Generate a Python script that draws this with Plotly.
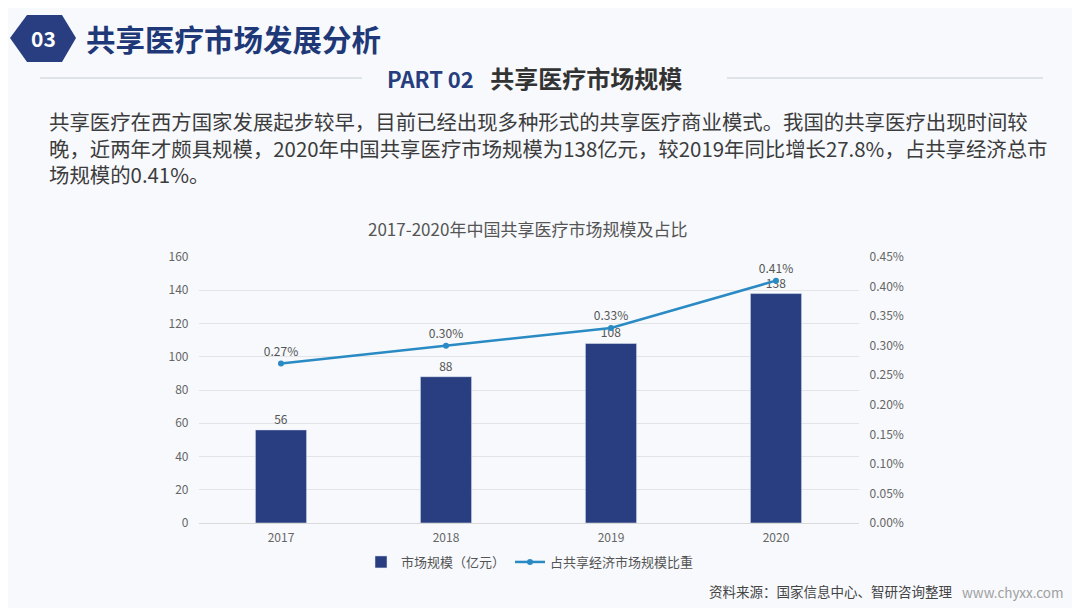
import plotly.graph_objects as go

years = ["2017", "2018", "2019", "2020"]
market_size = [56, 88, 108, 138]          # 亿元
share_pct = [0.27, 0.30, 0.33, 0.41]      # %
left_ticks = [0, 20, 40, 60, 80, 100, 120, 140, 160]
right_ticks = [0, 0.05, 0.10, 0.15, 0.20, 0.25, 0.30, 0.35, 0.40, 0.45]

FONT = "Noto Sans CJK SC"
W, H = 1080, 608
OFF = 8  # page body margin offset
BAR_C = "#283e80"
LINE_C = "#2a8ac4"

def px(x):
    return (x - OFF) / W

def py(y):
    return 1 - (y - OFF) / H

fig = go.Figure()
fig.add_trace(go.Bar(
    x=years, y=market_size, name="市场规模（亿元）",
    marker=dict(color=BAR_C), width=0.31,
    text=[str(v) for v in market_size], textposition="outside",
    textfont=dict(family=FONT, size=12, color="#555555"),
    cliponaxis=False,
))
fig.add_trace(go.Scatter(
    x=years, y=share_pct, name="占共享经济市场规模比重", yaxis="y2",
    mode="lines+markers+text",
    line=dict(color=LINE_C, width=2.5),
    marker=dict(color=LINE_C, size=6),
    text=[f"{v:.2f}%" for v in share_pct], textposition="top center",
    textfont=dict(family=FONT, size=12, color="#555555"),
    cliponaxis=False,
))

shapes = [
    # hexagon badge
    dict(type="path", xref="paper", yref="paper",
         path=f"M {px(10)} {py(38)} L {px(27)} {py(15)} L {px(62)} {py(15)} L {px(76)} {py(38)} L {px(62)} {py(62)} L {px(27)} {py(62)} Z",
         fillcolor="#283e80", line=dict(width=0)),
    # lines around PART 02
    dict(type="line", xref="paper", yref="paper", x0=px(40), x1=px(362), y0=py(78), y1=py(78),
         line=dict(color="#d6dbe2", width=1.5)),
    dict(type="line", xref="paper", yref="paper", x0=px(727), x1=px(1043), y0=py(78), y1=py(78),
         line=dict(color="#d6dbe2", width=1.5)),
]

def ann(text, x, y, size, color, xanchor="left"):
    return dict(text=text, x=px(x), y=py(y), xref="paper", yref="paper",
                xanchor=xanchor, yanchor="middle", showarrow=False, align="left",
                font=dict(family=FONT, size=size, color=color))

paragraph_lines = [
    "共享医疗在西方国家发展起步较早，目前已经出现多种形式的共享医疗商业模式。我国的共享医疗出现时间较",
    "晚，近两年才颇具规模，2020年中国共享医疗市场规模为138亿元，较2019年同比增长27.8%，占共享经济总市",
    "场规模的0.41%。",
]

annotations = [
    ann("<b>03</b>", 43, 38, 21, "white", xanchor="center"),
    ann("<b>共享医疗市场发展分析</b>", 84, 38, 29.5, "#1f3877"),
    ann("<b><span style='color:#263d7e;font-size:22px'>PART 02</span>&nbsp;&nbsp;&nbsp;共享医疗市场规模</b>",
        385, 78, 24, "#333333"),
    ann("<br>".join(paragraph_lines), 47, 147, 20.4, "#3c3c3c"),
    ann("2017-2020年中国共享医疗市场规模及占比", 527, 228, 17, "#555555", xanchor="center"),
    ann("资料来源：国家信息中心、智研咨询整理", 707, 591, 13.5, "#444444"),
    ann("www.chyxx.com", 960, 592, 13.5, "#a0a0a0"),
]

fig.update_layout(
    width=W, height=H,
    margin=dict(l=0, r=0, t=0, b=0, autoexpand=False),
    paper_bgcolor="#f7f9fc", plot_bgcolor="rgba(0,0,0,0)",
    font=dict(family=FONT, size=12, color="#666666"),
    showlegend=True,
    legend=dict(orientation="h", x=px(530), xanchor="center", y=py(562), yanchor="middle",
                font=dict(family=FONT, size=13, color="#555555"), bgcolor="rgba(0,0,0,0)",
                itemwidth=30),
    xaxis=dict(domain=[px(198.5), px(858.5)], range=[-0.5, 3.5], type="category",
               showgrid=False, showline=True, linecolor="#d9d9d9", ticks="",
               ticklabelstandoff=4,
               tickfont=dict(family=FONT, size=12, color="#666666")),
    yaxis=dict(domain=[py(523), py(257)], range=[0, 160], tickvals=left_ticks,
               showgrid=True, gridcolor="#e2e4e8", zeroline=False, ticks="",
               ticklabelstandoff=9,
               tickfont=dict(family=FONT, size=12, color="#666666")),
    yaxis2=dict(overlaying="y", side="right", range=[0, 0.45], tickvals=right_ticks,
                ticktext=[f"{v:.2f}%" for v in right_ticks], showgrid=False, zeroline=False,
                ticklabelstandoff=10,
                tickfont=dict(family=FONT, size=12, color="#666666")),
    shapes=shapes,
    annotations=annotations,
    bargap=0.69,
)

fig.write_html("out.html")
